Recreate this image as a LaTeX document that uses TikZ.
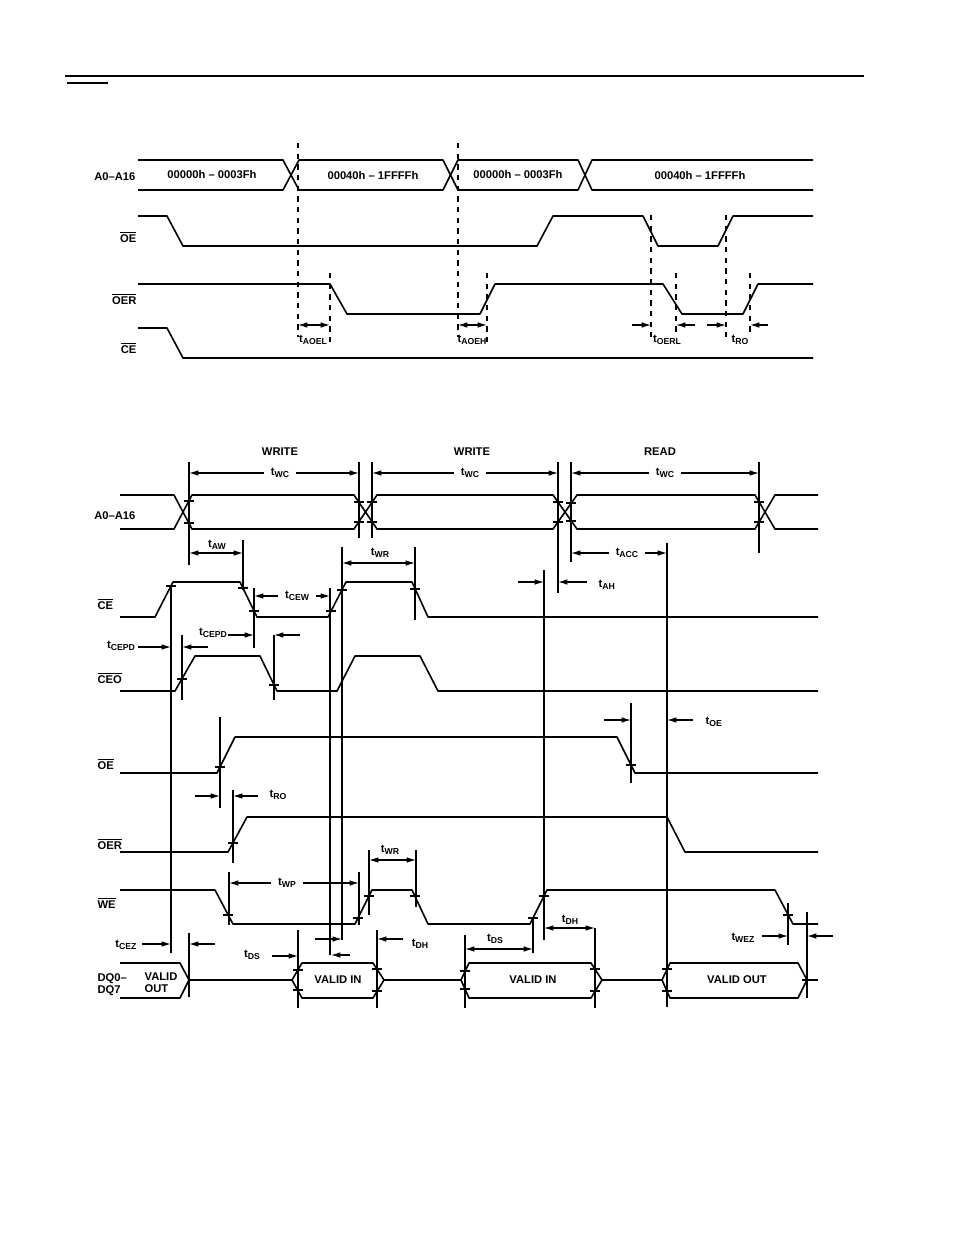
\documentclass[tikz,border=0pt]{standalone}
\usepackage{fontspec}
\setmainfont{Liberation Sans}
\usetikzlibrary{arrows.meta}

\newcommand{\tsub}[1]{t\raisebox{-0.45ex}{\fontsize{6.5}{6.5}\selectfont #1}}
\newcommand{\ovl}[1]{$\overline{\mbox{#1}}$}
\newcommand{\tickat}[2]{\draw[tickmark] (#1,#2) ++(-5,0) -- ++(10,0);}

\tikzset{
  sig/.style={line width=1.2pt, line join=round},
  vl/.style={line width=0.9pt},
  dl/.style={line width=0.9pt, dash pattern=on 4pt off 4pt},
  tickmark/.style={line width=0.9pt},
  arr/.style={line width=0.9pt, -{Latex[length=7pt,width=4.2pt]}},
  darr/.style={line width=0.9pt, {Latex[length=7pt,width=4.2pt]}-{Latex[length=7pt,width=4.2pt]}},
  lbl/.style={font=\fontsize{8.4}{9}\selectfont\bfseries, inner sep=1pt},
  tl/.style={font=\fontsize{8.4}{9}\selectfont\bfseries, inner sep=5pt},
}

\begin{document}
\begin{tikzpicture}[x=0.75pt, y=-0.75pt]
    \useasboundingbox (0,0) rectangle (954,1235);

    % Header rules
    \draw[line width=1.4pt] (65,76) -- (864,76);
    \draw[line width=1.4pt] (67,83) -- (108,83);

    % Address range diagram
    \node[lbl, anchor=east] (a1) at (137,177) {A0--A16};
    \node[lbl, anchor=east] (oe1) at (138,237) {\ovl{OE}};
    \node[lbl, anchor=east] (oer1) at (138,299) {\ovl{OER}};
    \node[lbl, anchor=east] (ce1) at (138,348) {\ovl{CE}};

    \draw[sig] (138,160) -- (283,160) -- (299,190) -- (443,190) -- (458,160) -- (578,160) -- (592,190) -- (813,190);
    \draw[sig] (138,190) -- (283,190) -- (299,160) -- (443,160) -- (458,190) -- (578,190) -- (592,160) -- (813,160);
    \node[lbl] (rlow1) at (212,175) {00000h -- 0003Fh};
    \node[lbl] (rhigh1) at (373,175) {00040h -- 1FFFFh};
    \node[lbl] (rlow2) at (518,175) {00000h -- 0003Fh};
    \node[lbl] (rhigh2) at (700,175) {00040h -- 1FFFFh};

    \draw[sig] (138,216) -- (167,216) -- (183,246) -- (537,246) -- (553,216) -- (643,216) -- (658,246) -- (718,246) -- (733,216) -- (813,216);
    \draw[sig] (138,284) -- (330,284) -- (347,314) -- (480,314) -- (495,284) -- (663,284) -- (682,314) -- (743,314) -- (758,284) -- (813,284);
    \draw[sig] (138,328) -- (167,328) -- (183,358) -- (813,358);

    \foreach \x/\ya/\yb in {298/143/337, 458/143/337, 330/273/343, 487/273/343,
                            651/215/337, 676/273/337, 726/215/337, 750/273/337}
        {\draw[dl] (\x,\ya) -- (\x,\yb);}

    \draw[darr] (298,325) -- (330,325);
    \draw[darr] (458,325) -- (487,325);
    \draw[arr] (632,325) -- (651,325);
    \draw[arr] (695,325) -- (676,325);
    \draw[arr] (707,325) -- (726,325);
    \draw[arr] (768,325) -- (750,325);
    \node[lbl] (taoel) at (313,340) {\tsub{AOEL}};
    \node[lbl] (taoeh) at (472,340) {\tsub{AOEH}};
    \node[lbl] (toerl) at (667,340) {\tsub{OERL}};
    \node[lbl] (tro1) at (740,340) {\tsub{RO}};

    % Write / read cycle diagram
    \node[lbl] (wr1) at (280,452) {WRITE};
    \node[lbl] (wr2) at (472,452) {WRITE};
    \node[lbl] (rd) at (660,452) {READ};

    \node[lbl, anchor=east] (a2) at (137,516) {A0--A16};
    \node[lbl, anchor=west] (ce2) at (96,604) {\ovl{CE}};
    \node[lbl, anchor=west] (ceo) at (96,678) {\ovl{CEO}};
    \node[lbl, anchor=west] (oe2) at (96,764) {\ovl{OE}};
    \node[lbl, anchor=west] (oer2) at (96,844) {\ovl{OER}};
    \node[lbl, anchor=west] (we) at (96,903) {\ovl{WE}};
    \node[lbl, anchor=west, align=left] (dq) at (96,985) {DQ0--\\DQ7};

    % signals
    \draw[sig] (120,495) -- (174,495) -- (192,529) -- (354,529) -- (377,495) -- (553,495) -- (577,529) -- (755,529) -- (775,495) -- (818,495);
    \draw[sig] (120,529) -- (174,529) -- (192,495) -- (354,495) -- (377,529) -- (553,529) -- (577,495) -- (755,495) -- (775,529) -- (818,529);
    \draw[sig] (120,617) -- (155,617) -- (173,582) -- (240,582) -- (257,617) -- (328,617) -- (346,582) -- (412,582) -- (428,617) -- (818,617);
    \draw[sig] (120,691) -- (175,691) -- (195,656) -- (260,656) -- (277,691) -- (337,691) -- (355,656) -- (420,656) -- (438,691) -- (818,691);
    \draw[sig] (120,773) -- (217,773) -- (235,737) -- (617,737) -- (635,773) -- (818,773);
    \draw[sig] (120,852) -- (228,852) -- (247,817) -- (667,817) -- (685,852) -- (818,852);
    \draw[sig] (120,890) -- (215,890) -- (233,924) -- (355,924) -- (372,890) -- (412,890) -- (428,924) -- (530,924) -- (547,890) -- (775,890) -- (793,924) -- (818,924);

    % data bus
    \draw[sig] (120,963) -- (180,963) -- (189,980) -- (180,998) -- (120,998);
    \draw[sig] (189,980) -- (292,980);
    \draw[sig] (384,980) -- (461,980);
    \draw[sig] (602,980) -- (662,980);
    \draw[sig] (807,980) -- (818,980);
    \draw[sig] (292,980) -- (302,963) -- (373,963) -- (384,980) -- (373,998) -- (302,998) -- cycle;
    \draw[sig] (461,980) -- (469,963) -- (591,963) -- (602,980) -- (591,998) -- (469,998) -- cycle;
    \draw[sig] (662,980) -- (670,963) -- (798,963) -- (807,980) -- (798,998) -- (670,998) -- cycle;
    \node[lbl, align=left] (vout1) at (161,983) {VALID\\OUT};
    \node[lbl] (vin1) at (338,980) {VALID IN};
    \node[lbl] (vin2) at (533,980) {VALID IN};
    \node[lbl] (vout2) at (737,980) {VALID OUT};

    % timing lines
    \foreach \x/\ya/\yb in {189/462/565, 359/462/538, 372/462/538, 558/462/593, 571/462/562,
                            759/462/553, 243/540/590, 171/587/953, 254/588/648, 330/588/955,
                            342/547/940, 415/547/620, 182/635/700, 274/635/700, 220/717/808,
                            233/790/863, 631/703/783, 667/543/1007, 544/570/940, 229/872/925,
                            359/872/925, 369/850/915, 416/850/907, 298/930/1008, 377/930/1008,
                            465/935/1008, 595/928/1008, 533/918/953, 788/903/945, 807/912/998,
                            189/933/997}
        {\draw[vl] (\x,\ya) -- (\x,\yb);}

    % crossing marks
    \foreach \x/\y in {189/501, 189/523, 359/502, 359/522, 372/502, 372/522, 558/502, 558/522,
                       571/503, 571/521, 759/502, 759/522,
                       171/586, 243/588, 254/611, 331/611, 342/590, 415/589,
                       182/679, 274/685, 220/767, 631/765, 233/843,
                       228/915, 358/918, 369/896, 415/896, 533/918, 544/896, 788/915,
                       298/970, 298/990, 377/969, 377/991, 465/971, 465/989, 595/969, 595/991,
                       667/969, 667/991, 807/980}
        {\tickat{\x}{\y}}

    % cycle times
    \node[tl] (twc1) at (280,473) {\tsub{WC}};
    \draw[arr] (twc1) -- (189,473);
    \draw[arr] (twc1) -- (359,473);
    \node[tl] (twc2) at (470,473) {\tsub{WC}};
    \draw[arr] (twc2) -- (372,473);
    \draw[arr] (twc2) -- (558,473);
    \node[tl] (twc3) at (665,473) {\tsub{WC}};
    \draw[arr] (twc3) -- (571,473);
    \draw[arr] (twc3) -- (759,473);

    % address / chip enable
    \draw[darr] (189,553) -- (243,553);
    \node[lbl] (taw) at (217,545) {\tsub{AW}};
    \node[tl] (tcew) at (297,596) {\tsub{CEW}};
    \draw[arr] (tcew) -- (254,596);
    \draw[arr] (tcew) -- (330,596);
    \draw[darr] (342,563) -- (415,563);
    \node[lbl] (twr1) at (380,553) {\tsub{WR}};
    \node[tl] (tacc) at (627,553) {\tsub{ACC}};
    \draw[arr] (tacc) -- (571,553);
    \draw[arr] (tacc) -- (667,553);
    \draw[arr] (518,582) -- (544,582);
    \draw[arr] (587,582) -- (558,582);
    \node[lbl, anchor=west] (tah) at (597,585) {\tsub{AH}};

    % power down
    \node[lbl] (tcepd1) at (213,633) {\tsub{CEPD}};
    \draw[arr] (228,635) -- (254,635);
    \draw[arr] (300,635) -- (274,635);
    \node[lbl] (tcepd2) at (121,646) {\tsub{CEPD}};
    \draw[arr] (138,647) -- (171,647);
    \draw[arr] (208,647) -- (182,647);

    % output enable
    \draw[arr] (195,796) -- (220,796);
    \draw[arr] (258,796) -- (233,796);
    \node[lbl, anchor=west] (tro2) at (268,795) {\tsub{RO}};
    \draw[arr] (604,720) -- (631,720);
    \draw[arr] (693,720) -- (667,720);
    \node[lbl, anchor=west] (toe) at (704,722) {\tsub{OE}};

    % write enable
    \node[tl] (twp) at (287,883) {\tsub{WP}};
    \draw[arr] (twp) -- (229,883);
    \draw[arr] (twp) -- (359,883);
    \draw[darr] (369,860) -- (416,860);
    \node[lbl] (twr2) at (390,850) {\tsub{WR}};

    % data
    \node[lbl] (tcez) at (126,945) {\tsub{CEZ}};
    \draw[arr] (142,944) -- (171,944);
    \draw[arr] (215,944) -- (189,944);
    \draw[arr] (315,939) -- (342,939);
    \draw[arr] (350,955) -- (331,955);
    \node[lbl] (tds1) at (252,955) {\tsub{DS}};
    \draw[arr] (272,956) -- (298,956);
    \draw[arr] (403,939) -- (377,939);
    \node[lbl] (tdh1) at (420,944) {\tsub{DH}};
    \draw[darr] (465,949) -- (533,949);
    \node[lbl] (tds2) at (495,939) {\tsub{DS}};
    \draw[darr] (544,928) -- (595,928);
    \node[lbl] (tdh2) at (570,920) {\tsub{DH}};
    \node[lbl] (twez) at (743,938) {\tsub{WEZ}};
    \draw[arr] (762,936) -- (788,936);
    \draw[arr] (833,936) -- (807,936);
\end{tikzpicture}
\end{document}
